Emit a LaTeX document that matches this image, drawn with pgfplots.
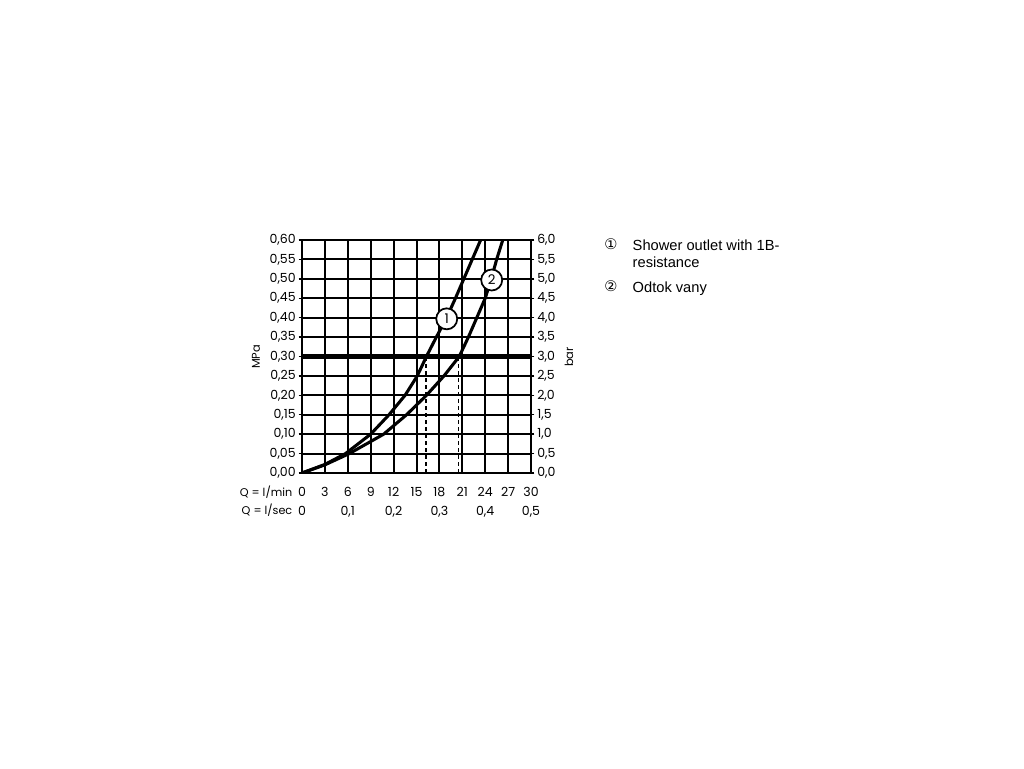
\documentclass[border=0pt]{standalone}
\usepackage{pgfplots}
\pgfplotsset{compat=1.18}
\usepackage{fontspec}
\setmainfont{Poppins}
\newfontfamily\legfont{Liberation Sans}
\newfontfamily\symfont{DejaVu Sans}

% flow curves, Q in l/min, p in MPa
\pgfplotstableread{
q     p
0     0
3     0.022
5.7   0.05
9     0.10
11.4  0.15
13.5  0.20
15.1  0.25
16.3  0.30
17.6  0.35
18.95 0.40
20.1  0.45
21.2  0.50
22.3  0.55
23.4  0.60
}\curveone
\pgfplotstableread{
q     p
0     0
3     0.021
6.2   0.05
10.7  0.10
13.7  0.15
16.3  0.20
18.6  0.25
20.6  0.30
21.8  0.35
22.9  0.40
24.0  0.45
24.8  0.50
25.5  0.55
26.3  0.60
}\curvetwo

\pgfplotsset{
  chartbase/.style={
    at={(226.5pt,221.25pt)}, anchor=south west,
    scale only axis, width=171.75pt, height=174.75pt,
    xmin=0, xmax=30,
    axis line style={black, line width=1.5pt},
    tick style={black, line width=1pt},
    tick align=outside,
    major tick length=2.5pt,
    ticklabel style={font=\fontsize{9.4}{14.25}\selectfont, inner sep=2pt},
    /pgf/number format/assume math mode=true,
  },
}

\begin{document}
\begin{tikzpicture}
\path[use as bounding box, fill=white] (0,0) rectangle (768pt,576pt);

\begin{axis}[chartbase,
  ymin=0, ymax=0.6,
  xtick={0,3,6,9,12,15,18,21,24,27,30},
  xticklabels={{0\\0},3,{6\\0,1},9,{12\\0,2},15,{18\\0,3},21,{24\\0,4},27,{30\\0,5}},
  xticklabel style={align=center, anchor=north, yshift=-6pt},
  x tick style={draw=none},
  ytick={0,0.05,0.10,0.15,0.20,0.25,0.30,0.35,0.40,0.45,0.50,0.55,0.60},
  ytick pos=left,
  yticklabel style={/pgf/number format/.cd, use comma, fixed, fixed zerofill, precision=2},
  grid=major,
  major grid style={black, line width=1.5pt},
]
\addplot[black, line width=3.5pt] coordinates {(0,0.3) (30,0.3)};
\addplot[black, line width=1.1pt, dash pattern=on 3pt off 2.25pt] coordinates {(16.25,0) (16.25,0.3)};
\addplot[black, line width=1.1pt, dash pattern=on 3pt off 2.25pt] coordinates {(20.5,0) (20.5,0.3)};
\addplot[black, line width=2.3pt, line join=round] table[x=q, y=p] {\curveone};
\addplot[black, line width=2.3pt, line join=round] table[x=q, y=p] {\curvetwo};
\node[circle, draw=black, fill=white, line width=1.3pt, minimum size=15.75pt, inner sep=0pt,
  font=\fontsize{10}{11}\selectfont] at (axis cs:18.96,0.397) {1};
\node[circle, draw=black, fill=white, line width=1.3pt, minimum size=15.75pt, inner sep=0pt,
  font=\fontsize{10}{11}\selectfont] at (axis cs:24.85,0.497) {2};
\end{axis}

\begin{axis}[chartbase,
  ymin=0, ymax=6,
  axis x line=none,
  axis y line*=right,
  ytick={0,0.5,1,1.5,2,2.5,3,3.5,4,4.5,5,5.5,6},
  yticklabel style={/pgf/number format/.cd, use comma, fixed, fixed zerofill, precision=1},
]
\addplot[draw=none] coordinates {(0,0) (30,6)};
\end{axis}

% labels placed in pixel coordinates of the 1024x768 frame
\begin{scope}[shift={(0pt,576pt)}, x=0.75pt, y=-0.75pt]
\node[rotate=90, font=\fontsize{8.5}{9}\selectfont] at (256,357) {MPa};
\node[rotate=90, font=\fontsize{8.5}{9}\selectfont] at (569,357) {bar};
\node[anchor=base east, font=\fontsize{8.4}{9}\selectfont] at (297,496) {Q = l/min};
\node[anchor=base east, font=\fontsize{8.4}{9}\selectfont] at (297,515) {Q = l/sec};

\node[anchor=base, font=\symfont\fontsize{11}{12}\selectfont] at (611,250) {①};
\node[anchor=base west, font=\legfont\fontsize{11}{12}\selectfont] at (628,251) {Shower outlet with 1B-};
\node[anchor=base west, font=\legfont\fontsize{11}{12}\selectfont] at (628,268) {resistance};
\node[anchor=base, font=\symfont\fontsize{11}{12}\selectfont] at (611,292) {②};
\node[anchor=base west, font=\legfont\fontsize{11}{12}\selectfont] at (628,293) {Odtok vany};
\end{scope}
\end{tikzpicture}
\end{document}
